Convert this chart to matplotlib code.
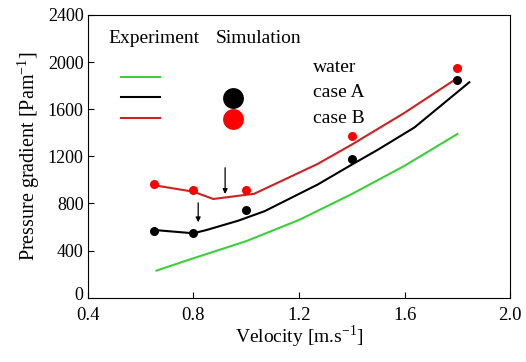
import matplotlib
matplotlib.use('Agg')
import matplotlib.pyplot as plt
import matplotlib.transforms as mtransforms

plt.rcParams['font.family'] = ['Liberation Serif', 'DejaVu Serif']
plt.rcParams['mathtext.fontset'] = 'stix'

# experimental points
exp_v = [0.65, 0.8, 1.0, 1.4, 1.8]
exp_case_a = [569, 549, 745, 1177, 1848]
exp_case_b = [965, 914, 914, 1375, 1948]

# simulation curves
sim_water_v = [0.66, 0.8, 1.0, 1.2, 1.4, 1.6, 1.8]
sim_water = [230, 335, 480, 660, 880, 1120, 1390]
sim_a_v = [0.65, 0.8, 0.85, 0.97, 1.07, 1.27, 1.4, 1.5, 1.637, 1.845]
sim_a = [575, 547, 575, 654, 735, 960, 1130, 1258, 1445, 1829]
sim_b_v = [0.65, 0.8, 0.875, 1.03, 1.27, 1.4, 1.6, 1.8]
sim_b = [955, 900, 838, 882, 1135, 1300, 1570, 1865]

legend_labels = ['water', 'case A', 'case B']

GREEN = '#3ccf3c'
RED_LINE = '#cc2222'
RED_DOT = '#ff0000'

fig = plt.figure(figsize=(5.26, 3.62), dpi=100)
ax = fig.add_axes([0.167, 0.1776, 0.803, 0.781])

ax.plot(sim_water_v, sim_water, color=GREEN, lw=1.5)
ax.plot(sim_a_v, sim_a, color='black', lw=1.5)
ax.plot(sim_b_v, sim_b, color=RED_LINE, lw=1.5)
ax.plot(exp_v, exp_case_a, 'o', color='black', ms=6.5, mec='none')
ax.plot(exp_v, exp_case_b, 'o', color=RED_DOT, ms=6.5, mec='none')

# arrows marking the minimum
ax.annotate('', xy=(0.92, 857), xytext=(0.92, 1127),
            arrowprops=dict(arrowstyle='-|>', color='black', lw=0.9,
                            mutation_scale=7))
ax.annotate('', xy=(0.818, 617), xytext=(0.818, 829),
            arrowprops=dict(arrowstyle='-|>', color='black', lw=0.9,
                            mutation_scale=7))

# hand-made legend
ax.text(0.478, 2159, 'Experiment', fontsize=14, va='baseline')
ax.text(0.883, 2159, 'Simulation', fontsize=14, va='baseline')
ax.plot([0.525, 0.674], [1870, 1870], color=GREEN, lw=1.5)
ax.plot([0.525, 0.674], [1703, 1703], color='black', lw=1.5)
ax.plot([0.525, 0.674], [1528, 1528], color=RED_LINE, lw=1.5)
ax.plot([0.949], [1692], 'o', color='black', ms=15, mec='none')
ax.plot([0.949], [1517], 'o', color=RED_DOT, ms=15, mec='none')
for lab, yb in zip(legend_labels, [1920, 1701, 1479]):
    ax.text(1.252, yb, lab, fontsize=14, va='baseline')

ax.set_xlim(0.4, 2.0)
ax.set_ylim(0, 2400)
ax.set_xticks([0.4, 0.8, 1.2, 1.6, 2.0])
ax.set_xticklabels(['0.4', '0.8', '1.2', '1.6', '2.0'])
ax.set_yticks(range(0, 2401, 400))
ax.tick_params(direction='in', length=4, width=0.8)
ax.tick_params(axis='x', pad=6.5, labelsize=13.5)
ax.tick_params(axis='y', pad=3, labelsize=13)
for s in ax.spines.values():
    s.set_linewidth(0.8)

# nudge the "0" label up a little so it clears "0.4"
fig.canvas.draw()
zero_lab = ax.get_yticklabels()[0]
zero_lab.set_transform(zero_lab.get_transform() +
                       mtransforms.ScaledTranslation(0, 3 / 72, fig.dpi_scale_trans))

ax.set_xlabel(r'Velocity [m.s$^{\mathregular{-1}}$]', fontsize=14, labelpad=0)
ax.set_ylabel(r'Pressure gradient [Pam$^{\mathregular{-1}}$]', fontsize=14.5, labelpad=4)

fig.savefig('out.png', dpi=100)
